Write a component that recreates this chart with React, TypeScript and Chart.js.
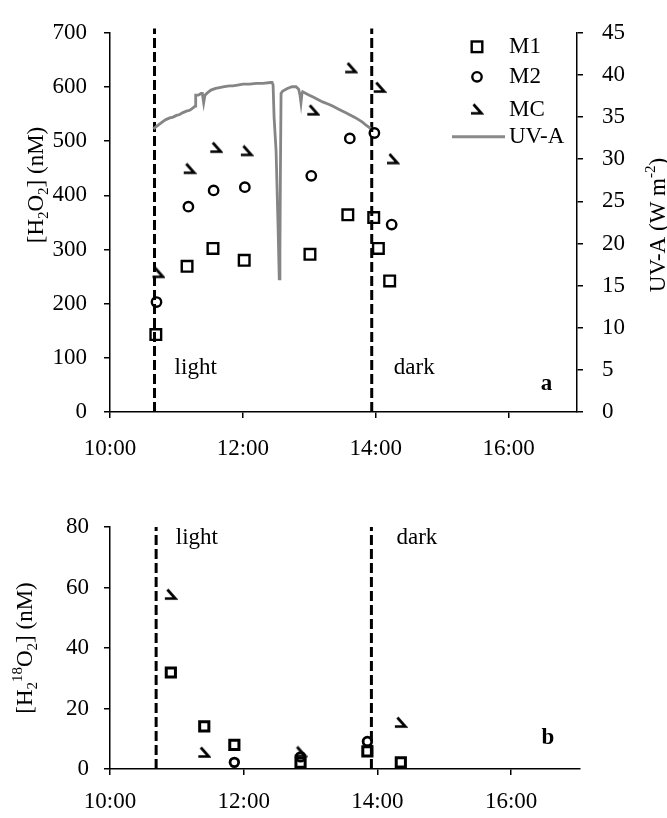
import React, { useEffect, useRef } from "react";
import { Chart, registerables } from "chart.js";

Chart.register(...registerables);

const FONT = "'Liberation Serif', 'Times New Roman', serif";

// ---- shared axis data ----
const xTickHours = [10, 12, 14, 16];
const xMinHour = 10;
const xMaxHour = 17.03;

// ---- panel a: [H2O2] (nM) and UV-A ----
const eventTimesA = [10.67, 13.94];
const m1TimesA = [10.69, 11.16, 11.55, 12.02, 13.01, 13.58, 13.97, 14.04, 14.21];
const m1ValuesA = [143, 269, 302, 280, 291, 364, 359, 302, 242];
const m2TimesA = [10.7, 11.18, 11.56, 12.03, 13.03, 13.61, 13.98, 14.24];
const m2ValuesA = [203, 379, 409, 415, 436, 505, 515, 346];
const mcTimesA = [10.73, 11.2, 11.6, 12.06, 13.06, 13.63, 14.06, 14.26];
const mcValuesA = [256, 448, 487, 481, 556, 634, 598, 466];

const uvTimes = [
  10.653, 10.7, 10.75, 10.8, 10.84, 10.9, 10.95, 11.0, 11.05, 11.09, 11.15, 11.2, 11.25, 11.28, 11.29,
  11.33, 11.37, 11.39, 11.41, 11.43, 11.47, 11.52, 11.59, 11.65, 11.72, 11.8, 11.85, 11.92, 12.0, 12.1,
  12.2, 12.3, 12.42, 12.44, 12.455, 12.47, 12.5, 12.53, 12.548, 12.558, 12.565, 12.575, 12.6, 12.67,
  12.74, 12.8, 12.84, 12.86, 12.875, 12.89, 12.9, 12.95, 13.0, 13.05, 13.1, 13.2, 13.3, 13.35, 13.45,
  13.55, 13.6, 13.7, 13.8, 13.86, 13.93,
];
const uvValues = [
  33.6, 33.9, 34.2, 34.5, 34.7, 34.9, 35.0, 35.2, 35.3, 35.5, 35.7, 35.8, 36.1, 36.3, 37.6,
  37.6, 37.8, 37.8, 36.7, 37.6, 37.9, 38.2, 38.4, 38.5, 38.6, 38.7, 38.7, 38.8, 38.9, 38.9,
  39.0, 39.0, 39.1, 39.1, 38.8, 35.0, 31.0, 22.0, 15.8, 19.0, 28.0, 37.8, 38.1, 38.4,
  38.6, 38.6, 38.3, 37.6, 36.7, 37.8, 38.0, 37.8, 37.6, 37.4, 37.2, 36.8, 36.5, 36.3, 35.9,
  35.5, 35.3, 34.9, 34.4, 34.0, 33.6,
];

// ---- panel b: [H2 18O2] (nM) ----
const eventTimesB = [10.69, 13.91];
const m1TimesB = [10.91, 11.41, 11.86, 12.85, 13.85, 14.35];
const m1ValuesB = [31.9, 14.1, 8.0, 2.1, 5.8, 2.2];
const m2TimesB = [11.86, 12.85, 13.85];
const m2ValuesB = [2.2, 4.0, 9.1];
const mcTimesB = [10.91, 11.41, 12.85, 14.35];
const mcValuesB = [57.5, 5.3, 5.5, 15.2];

// annotation texts (position in data units)
const notesA = [
  { text: "light", x: 11.29, y: 81, bold: false },
  { text: "dark", x: 14.58, y: 81, bold: false },
  { text: "a", x: 16.57, y: 52, bold: true },
];
const notesB = [
  { text: "light", x: 11.3, y: 76.5, bold: false },
  { text: "dark", x: 14.59, y: 76.3, bold: false },
  { text: "b", x: 16.55, y: 10.3, bold: true },
];

type Part = { t: string; k?: "sub" | "sup" };
const titleA: Part[] = [{ t: "[H" }, { t: "2", k: "sub" }, { t: "O" }, { t: "2", k: "sub" }, { t: "] (nM)" }];
const titleUV: Part[] = [{ t: "UV-A (W m" }, { t: "-2", k: "sup" }, { t: ")" }];
const titleB: Part[] = [
  { t: "[H" }, { t: "2", k: "sub" }, { t: "18", k: "sup" }, { t: "O" }, { t: "2", k: "sub" }, { t: "] (nM)" },
];

const pts = (xs: number[], ys: number[]) => xs.map((x, i) => ({ x, y: ys[i] }));
const fmtHour = (v: number) => {
  const h = Math.floor(v);
  const m = Math.round((v - h) * 60);
  return `${h}:${String(m).padStart(2, "0")}`;
};

function makeMcMarker(): HTMLCanvasElement {
  const c = document.createElement("canvas");
  c.width = 14;
  c.height = 14;
  const g = c.getContext("2d")!;
  g.strokeStyle = "#000";
  g.lineWidth = 2.7;
  g.lineCap = "butt";
  g.lineJoin = "miter";
  g.beginPath();
  g.moveTo(3.5, 1.5);
  g.lineTo(11.5, 10.5);
  g.lineTo(1, 10.5);
  g.stroke();
  return c;
}

function drawRotatedRich(ctx: CanvasRenderingContext2D, parts: Part[], cx: number, cy: number, size: number) {
  const small = Math.round(size * 0.64);
  ctx.save();
  ctx.translate(cx, cy);
  ctx.rotate(-Math.PI / 2);
  ctx.fillStyle = "#000";
  ctx.textBaseline = "alphabetic";
  ctx.textAlign = "left";
  let total = 0;
  const widths = parts.map((p) => {
    ctx.font = `${p.k ? small : size}px ${FONT}`;
    const w = ctx.measureText(p.t).width;
    total += w;
    return w;
  });
  let x = -total / 2;
  const base = size * 0.33;
  parts.forEach((p, i) => {
    ctx.font = `${p.k ? small : size}px ${FONT}`;
    const dy = p.k === "sub" ? size * 0.25 : p.k === "sup" ? -size * 0.4 : 0;
    ctx.fillText(p.t, x, base + dy);
    x += widths[i];
  });
  ctx.restore();
}

const axisCommon = (extra: any) => ({
  grid: { display: true, drawOnChartArea: false, drawTicks: true, tickLength: 6, color: "#000", lineWidth: 1.5 },
  border: { display: true, color: "#000", width: 1.5 },
  ...extra,
});

const FS = 23;
const tickFont = { family: FONT, size: FS };

function xScale(height: number, pad: number) {
  return axisCommon({
    type: "linear",
    min: xMinHour,
    max: xMaxHour,
    afterBuildTicks: (s: any) => {
      s.ticks = xTickHours.map((v) => ({ value: v }));
    },
    afterFit: (s: any) => {
      s.height = height;
    },
    ticks: { callback: (v: any) => fmtHour(Number(v)), font: tickFont, color: "#000", padding: pad, maxRotation: 0, autoSkip: false },
  });
}

function notesPlugin(id: string, notes: typeof notesA, yId: string) {
  return {
    id,
    afterDraw(chart: any) {
      const ctx = chart.ctx;
      const xs = chart.scales.x;
      const ys = chart.scales[yId];
      ctx.save();
      ctx.fillStyle = "#000";
      ctx.textAlign = "center";
      ctx.textBaseline = "middle";
      notes.forEach((n) => {
        ctx.font = `${n.bold ? "bold " : ""}${FS}px ${FONT}`;
        ctx.fillText(n.text, xs.getPixelForValue(n.x), ys.getPixelForValue(n.y));
      });
      ctx.restore();
    },
  };
}

export default function App() {
  const refA = useRef<HTMLCanvasElement>(null);
  const refB = useRef<HTMLCanvasElement>(null);

  useEffect(() => {
    const mcMarker = makeMcMarker();

    const dash = (t: number, top: number, yId: string) => ({
      type: "line",
      data: [{ x: t, y: 0 }, { x: t, y: top }],
      borderColor: "#000",
      borderWidth: 3,
      borderDash: [10, 4],
      borderCapStyle: "butt",
      pointRadius: 0,
      yAxisID: yId,
      clip: false,
      order: 5,
    });

    const legendPlugin = {
      id: "legendA",
      afterDraw(chart: any) {
        const { ctx, chartArea } = chart;
        const xm = chartArea.right - 100;
        const xt = chartArea.right - 68;
        const rows = [chartArea.top + 14, chartArea.top + 44, chartArea.top + 77, chartArea.top + 104];
        ctx.save();
        ctx.strokeStyle = "#000";
        ctx.lineWidth = 2.4;
        const s = 7.5 * Math.SQRT1_2;
        ctx.strokeRect(xm - s, rows[0] - s, 2 * s, 2 * s);
        ctx.beginPath();
        ctx.arc(xm, rows[1], 4.7, 0, Math.PI * 2);
        ctx.stroke();
        ctx.drawImage(mcMarker, xm - 7, rows[2] - 7);
        ctx.strokeStyle = "#8a8a8a";
        ctx.lineWidth = 3;
        ctx.beginPath();
        ctx.moveTo(chartArea.right - 125, rows[3]);
        ctx.lineTo(chartArea.right - 72, rows[3]);
        ctx.stroke();
        ctx.fillStyle = "#000";
        ctx.font = `${FS}px ${FONT}`;
        ctx.textAlign = "left";
        ctx.textBaseline = "middle";
        ["M1", "M2", "MC", "UV-A"].forEach((t, i) => ctx.fillText(t, xt, rows[i]));
        ctx.restore();
      },
    };

    const titlesA = {
      id: "titlesA",
      afterDraw(chart: any) {
        drawRotatedRich(chart.ctx, titleA, 35, 185, FS);
        drawRotatedRich(chart.ctx, titleUV, 657, 225, FS);
      },
    };
    const titlesB = {
      id: "titlesB",
      afterDraw(chart: any) {
        drawRotatedRich(chart.ctx, titleB, 24, 178, FS);
      },
    };

    const chartA = new Chart(refA.current!, {
      type: "scatter",
      data: {
        datasets: [
          { label: "M1", data: pts(m1TimesA, m1ValuesA), pointStyle: "rect", pointRadius: 7.5, borderWidth: 2.4, borderColor: "#000", backgroundColor: "rgba(0,0,0,0)", yAxisID: "y" },
          { label: "M2", data: pts(m2TimesA, m2ValuesA), pointStyle: "circle", pointRadius: 4.7, borderWidth: 2.4, borderColor: "#000", backgroundColor: "rgba(0,0,0,0)", yAxisID: "y" },
          { label: "MC", data: pts(mcTimesA, mcValuesA), pointStyle: mcMarker, pointRadius: 7, yAxisID: "y" },
          { type: "line", label: "UV-A", data: pts(uvTimes, uvValues), borderColor: "#858585", borderWidth: 2.8, pointRadius: 0, tension: 0, yAxisID: "y1", order: 3 },
          dash(eventTimesA[0], 708, "y"),
          dash(eventTimesA[1], 708, "y"),
        ] as any,
      },
      options: {
        animation: false,
        responsive: false,
        events: [],
        layout: { padding: { top: 23, left: 0, right: 0, bottom: 0 } },
        plugins: { legend: { display: false }, tooltip: { enabled: false } },
        scales: {
          x: xScale(58, 17),
          y: axisCommon({
            position: "left",
            min: 0,
            max: 700,
            afterFit: (s: any) => {
              s.width = 110;
            },
            ticks: { stepSize: 100, font: tickFont, color: "#000", padding: 17 },
          }),
          y1: axisCommon({
            position: "right",
            min: 0,
            max: 45,
            afterFit: (s: any) => {
              s.width = 90;
            },
            ticks: { stepSize: 5, font: tickFont, color: "#000", padding: 19 },
          }),
        },
      } as any,
      plugins: [legendPlugin, titlesA, notesPlugin("notesA", notesA, "y")],
    });

    const chartB = new Chart(refB.current!, {
      type: "scatter",
      data: {
        datasets: [
          { label: "M1", data: pts(m1TimesB, m1ValuesB), pointStyle: "rect", pointRadius: 6.5, borderWidth: 3, borderColor: "#000", backgroundColor: "rgba(0,0,0,0)", yAxisID: "y" },
          { label: "M2", data: pts(m2TimesB, m2ValuesB), pointStyle: "circle", pointRadius: 4.3, borderWidth: 2.8, borderColor: "#000", backgroundColor: "rgba(0,0,0,0)", yAxisID: "y" },
          { label: "MC", data: pts(mcTimesB, mcValuesB), pointStyle: mcMarker, pointRadius: 7, yAxisID: "y" },
          dash(eventTimesB[0], 80, "y"),
          dash(eventTimesB[1], 80, "y"),
        ] as any,
      },
      options: {
        animation: false,
        responsive: false,
        events: [],
        layout: { padding: { top: 57, left: 0, right: 87, bottom: 0 } },
        plugins: { legend: { display: false }, tooltip: { enabled: false } },
        scales: {
          x: xScale(49, 13),
          y: axisCommon({
            position: "left",
            min: 0,
            max: 80,
            afterFit: (s: any) => {
              s.width = 110;
            },
            ticks: { stepSize: 20, font: tickFont, color: "#000", padding: 15 },
          }),
        },
      } as any,
      plugins: [titlesB, notesPlugin("notesB", notesB, "y")],
    });

    return () => {
      chartA.destroy();
      chartB.destroy();
    };
  }, []);

  return (
    <div style={{ position: "absolute", left: 0, top: 0, width: 667, height: 818, background: "#fff" }}>
      <canvas ref={refA} width={667} height={470} style={{ display: "block", width: 667, height: 470 }} />
      <canvas ref={refB} width={667} height={348} style={{ display: "block", width: 667, height: 348 }} />
    </div>
  );
}
